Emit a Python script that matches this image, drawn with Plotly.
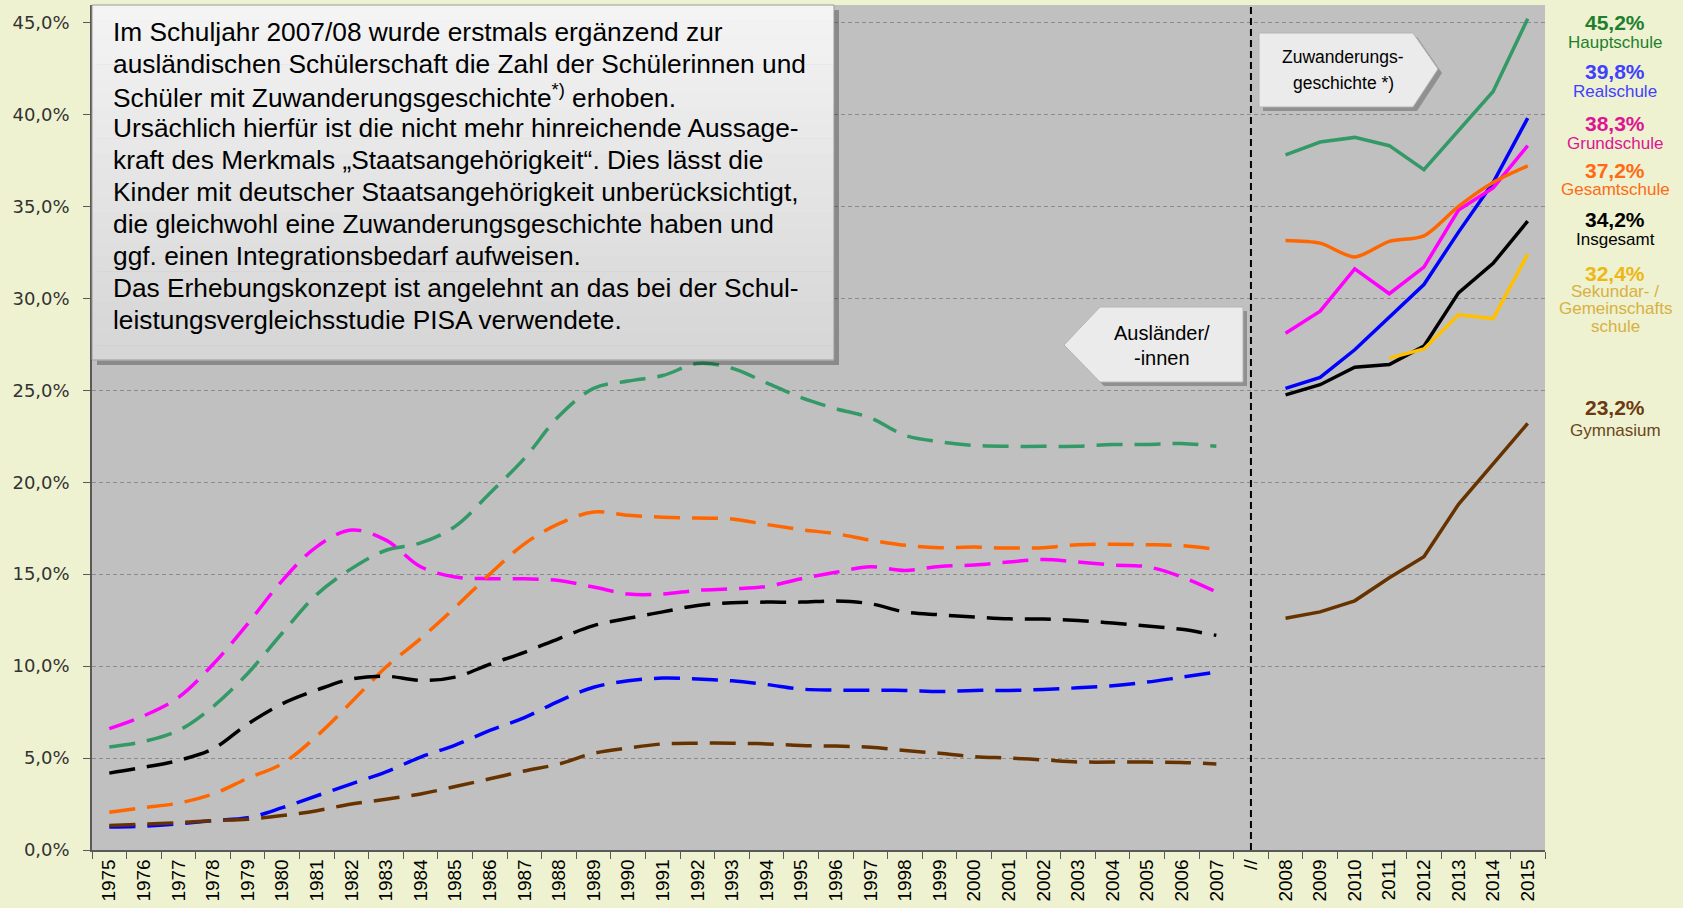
import plotly.graph_objects as go

# ---------------- data ----------------
years_a = [str(y) for y in range(1975, 2008)]
gap_label = "//"
years_b = [str(y) for y in range(2008, 2016)]
y_ticks = [0, 5, 10, 15, 20, 25, 30, 35, 40, 45]
y_ticktext = [f"{v:.1f}".replace(".", ",") + "%" for v in y_ticks]

haupt_a = [5.6, 5.9, 6.5, 7.8, 9.6, 11.8, 13.9, 15.3, 16.3, 16.7, 17.6, 19.4, 21.3, 23.6, 25.1, 25.5, 25.8,
           26.45, 26.2, 25.4, 24.6, 24.0, 23.5, 22.55, 22.2, 22.0, 21.95, 21.95, 21.95, 22.05, 22.05, 22.1, 21.95]
haupt_b = [37.8, 38.5, 38.75, 38.3, 37.0, 39.15, 41.25, 45.2]

real_a = [1.25, 1.3, 1.42, 1.6, 1.75, 2.3, 2.95, 3.6, 4.25, 5.05, 5.7, 6.5, 7.2, 8.1, 8.85, 9.2, 9.35,
          9.3, 9.2, 9.0, 8.75, 8.7, 8.68, 8.68, 8.62, 8.68, 8.68, 8.73, 8.82, 8.93, 9.13, 9.4, 9.67]
real_b = [25.1, 25.7, 27.2, 29.0, 30.75, 33.6, 36.3, 39.8]

grund_a = [6.6, 7.3, 8.3, 10.1, 12.3, 14.65, 16.5, 17.4, 16.85, 15.4, 14.85, 14.75, 14.75, 14.65, 14.3, 13.92, 13.92,
           14.12, 14.2, 14.33, 14.75, 15.1, 15.4, 15.2, 15.42, 15.5, 15.66, 15.8, 15.66, 15.5, 15.4, 14.85, 14.03]
grund_b = [28.1, 29.3, 31.6, 30.25, 31.7, 34.8, 36.0, 38.3]

gesamt_a = [2.05, 2.3, 2.55, 3.05, 3.9, 4.7, 6.2, 8.05, 9.95, 11.5, 13.2, 15.0, 16.65, 17.75, 18.38, 18.2, 18.1,
            18.05, 18.0, 17.7, 17.42, 17.2, 16.85, 16.57, 16.44, 16.47, 16.42, 16.44, 16.6, 16.62, 16.6, 16.55, 16.35]
gesamt_b = [33.15, 33.0, 32.25, 33.1, 33.4, 35.0, 36.3, 37.2]

insg_a = [4.18, 4.5, 4.87, 5.5, 6.85, 7.95, 8.7, 9.3, 9.45, 9.22, 9.4, 10.1, 10.75, 11.5, 12.2, 12.6, 12.95,
          13.3, 13.45, 13.48, 13.48, 13.54, 13.39, 12.94, 12.79, 12.67, 12.57, 12.56, 12.48, 12.34, 12.18, 12.0, 11.67]
insg_b = [24.75, 25.3, 26.25, 26.4, 27.4, 30.3, 31.9, 34.2]

sek_b = [None, None, None, 26.75, 27.25, 29.1, 28.9, 32.4]

gym_a = [1.33, 1.4, 1.49, 1.6, 1.67, 1.87, 2.14, 2.5, 2.76, 3.05, 3.45, 3.87, 4.3, 4.68, 5.26, 5.55, 5.77,
         5.81, 5.81, 5.77, 5.68, 5.65, 5.59, 5.41, 5.26, 5.08, 5.0, 4.9, 4.79, 4.78, 4.78, 4.76, 4.68]
gym_b = [12.6, 12.95, 13.55, 14.8, 15.95, 18.8, 21.0, 23.2]

series = [
    # name lines, a, b, line colour, label value colour, label name colour, spline for b
    (["Hauptschule"], haupt_a, haupt_b, "#339966", "#1F7F2F", "#1F7F2F", False),
    (["Realschule"], real_a, real_b, "#0000FF", "#4040FF", "#4040FF", False),
    (["Grundschule"], grund_a, grund_b, "#FF00FF", "#DD1493", "#DD1493", False),
    (["Gesamtschule"], gesamt_a, gesamt_b, "#FF6600", "#FF6A13", "#FF6A13", True),
    (["Insgesamt"], insg_a, insg_b, "#000000", "#000000", "#000000", False),
    (["Sekundar- /", "Gemeinschafts", "schule"], None, sek_b, "#FFC000", "#EDB714", "#D8B042", False),
    (["Gymnasium"], gym_a, gym_b, "#663300", "#6B3A10", "#6B4520", False),
]

# ---------------- geometry helpers (pixel -> paper) ----------------
W, H = 1683, 908
PL, PR, PT, PB = 92, 1545, 5, 850


def fx(px):
    return (px - PL) / (PR - PL)


def fy(py):
    return (PB - py) / (PB - PT)


fig = go.Figure()

for names, a, b, col, vcol, ncol, spl in series:
    if a is not None:
        fig.add_trace(go.Scatter(
            x=years_a, y=a, mode="lines",
            line=dict(color=col, width=3.5, dash="26px,12px", shape="spline", smoothing=1.0),
            hoverinfo="skip", showlegend=False))
    fig.add_trace(go.Scatter(
        x=years_b, y=b, mode="lines",
        line=dict(color=col, width=3.5, shape="spline" if spl else "linear", smoothing=0.8),
        hoverinfo="skip", showlegend=False, connectgaps=False))

categories = years_a + [gap_label] + years_b

fig.update_layout(
    width=W, height=H, autosize=False,
    margin=dict(l=PL, r=W - PR, t=PT, b=H - PB, pad=0),
    paper_bgcolor="#EEF2D0", plot_bgcolor="#C0C0C0",
    showlegend=False,
    xaxis=dict(
        type="category", categoryorder="array", categoryarray=categories,
        range=[-0.5, len(categories) - 0.5],
        showline=True, linecolor="#595959", linewidth=1.5, mirror=False,
        ticks="outside", tickson="boundaries", ticklen=7, tickcolor="#595959",
        tickangle=-90, showgrid=False, zeroline=False,
        tickfont=dict(family="Liberation Sans, Arial, sans-serif", size=19, color="#000000"),
    ),
    yaxis=dict(
        range=[0, 45.95], tickvals=y_ticks, ticktext=y_ticktext,
        showline=True, linecolor="#595959", linewidth=1.5,
        ticks="outside", ticklen=7, tickcolor="#595959",
        showgrid=True, gridcolor="#8C8C8C", gridwidth=1, griddash="4px,3px",
        zeroline=False, ticklabelstandoff=10,
        tickfont=dict(family="DejaVu Sans, sans-serif", size=18, color="#333333"),
    ),
)

shapes = []
annotations = []

# separator line between the two periods
shapes.append(dict(type="line", xref="x", yref="paper", x0=gap_label, x1=gap_label, y0=0, y1=1,
                   line=dict(color="#000000", width=2, dash="7px,4px"), layer="above"))

# ---- main text box ----
bx0, bx1, by0, by1 = 92, 834, 5, 360
shapes.append(dict(type="rect", xref="paper", yref="paper",
                   x0=fx(bx0 + 5), x1=fx(bx1 + 5), y0=fy(by1 + 5), y1=fy(by0 + 5),
                   fillcolor="rgba(0,0,0,0.28)", line=dict(width=0), layer="above"))
nstrip = 24
for i in range(nstrip):
    t = i / (nstrip - 1)
    c = int(244 - (244 - 214) * t)
    ya = by0 + (by1 - by0) * i / nstrip
    yb = by0 + (by1 - by0) * (i + 1) / nstrip + 0.6
    shapes.append(dict(type="rect", xref="paper", yref="paper",
                       x0=fx(bx0), x1=fx(bx1), y0=fy(yb), y1=fy(ya),
                       fillcolor=f"rgb({c},{c},{c})", line=dict(width=0), layer="above"))
shapes.append(dict(type="rect", xref="paper", yref="paper",
                   x0=fx(bx0), x1=fx(bx1), y0=fy(by1), y1=fy(by0),
                   fillcolor="rgba(0,0,0,0)", line=dict(color="#9A9A9A", width=1), layer="above"))

box_lines = [
    "Im Schuljahr 2007/08 wurde erstmals ergänzend zur",
    "ausländischen Schülerschaft die Zahl der Schülerinnen und",
    "Schüler mit Zuwanderungsgeschichte<sup>*)</sup> erhoben.",
    "Ursächlich hierfür ist die nicht mehr hinreichende Aussage-",
    "kraft des Merkmals „Staatsangehörigkeit“. Dies lässt die",
    "Kinder mit deutscher Staatsangehörigkeit unberücksichtigt,",
    "die gleichwohl eine Zuwanderungsgeschichte haben und",
    "ggf. einen Integrationsbedarf aufweisen.",
    "Das Erhebungskonzept ist angelehnt an das bei der Schul-",
    "leistungsvergleichsstudie PISA verwendete.",
]
for i, txt in enumerate(box_lines):
    annotations.append(dict(xref="paper", yref="paper", x=fx(111), y=fy(32 + 32 * i),
                            xanchor="left", yanchor="middle", showarrow=False, text=txt,
                            font=dict(family="Liberation Sans, Arial, sans-serif", size=26.3, color="#000000")))


# ---- arrow boxes ----
def path_from(points):
    return "M " + " L ".join(f"{fx(p[0]):.5f},{fy(p[1]):.5f}" for p in points) + " Z"


def arrow_box(points):
    sh = [(x + 4, y + 4) for x, y in points]
    shapes.append(dict(type="path", xref="paper", yref="paper", path=path_from(sh),
                       fillcolor="rgba(0,0,0,0.25)", line=dict(width=0), layer="above"))
    shapes.append(dict(type="path", xref="paper", yref="paper", path=path_from(points),
                       fillcolor="#EBEBEB", line=dict(color="#B5B5B5", width=1), layer="above"))


arrow_box([(1259, 33), (1413, 33), (1438, 69), (1413, 107), (1259, 107)])
arrow_box([(1064, 345), (1100, 307), (1243, 307), (1243, 382), (1100, 382)])

for txt, yy in [("Zuwanderungs-", 57), ("geschichte *)", 83)]:
    annotations.append(dict(xref="paper", yref="paper", x=fx(1343), y=fy(yy), xanchor="center",
                            yanchor="middle", showarrow=False, text=txt,
                            font=dict(family="Liberation Sans, Arial, sans-serif",
                                      size=17.5, color="#000000")))
for txt, yy in [("Ausländer/", 333), ("-innen", 358)]:
    annotations.append(dict(xref="paper", yref="paper", x=fx(1162), y=fy(yy), xanchor="center",
                            yanchor="middle", showarrow=False, text=txt,
                            font=dict(family="Liberation Sans, Arial, sans-serif", size=20, color="#000000")))

# ---- right-hand labels ----
label_pos = [  # (value y, [name line ys])
    (22, [42]),
    (72, [91]),
    (124, [143]),
    (170, [189]),
    (220, [240]),
    (273, [291, 308, 326]),
    (407, [430]),
]
for (names, a, b, col, vcol, ncol, spl), (vy, nys) in zip(series, label_pos):
    last = [v for v in b if v is not None][-1]
    vtxt = f"{last:.1f}".replace(".", ",") + "%"
    annotations.append(dict(xref="paper", yref="paper", x=fx(1615), y=fy(vy), xanchor="center",
                            yanchor="middle", showarrow=False, text=f"<b>{vtxt}</b>",
                            font=dict(family="Liberation Sans, Arial, sans-serif", size=21, color=vcol)))
    for nm, ny in zip(names, nys):
        annotations.append(dict(xref="paper", yref="paper", x=fx(1615), y=fy(ny), xanchor="center",
                                yanchor="middle", showarrow=False, text=nm,
                                font=dict(family="Liberation Sans, Arial, sans-serif", size=17, color=ncol)))

fig.update_layout(shapes=shapes, annotations=annotations)

fig.write_html("out.html", config={"displayModeBar": False},
               post_script="document.body.style.margin='0';")
